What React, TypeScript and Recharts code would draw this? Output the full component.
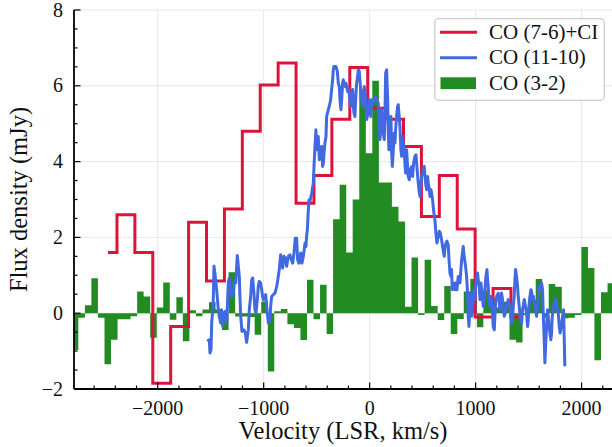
import React from 'react';
import { ComposedChart, Line, Area, XAxis, YAxis, CartesianGrid, Legend, Label } from 'recharts';

// ---- axes ----
const X_DOMAIN: [number, number] = [-2790, 2287];
const Y_DOMAIN: [number, number] = [-2, 8];
const X_MAJOR = [-2000, -1000, 0, 1000, 2000];
const X_MINOR = [-2600, -2400, -2200, -1800, -1600, -1400, -1200, -800, -600, -400, -200, 200, 400, 600, 800, 1200, 1400, 1600, 1800, 2200];
const Y_MAJOR = [-2, 0, 2, 4, 6, 8];
const Y_MINOR = [-1.5, -1, -0.5, 0.5, 1, 1.5, 2.5, 3, 3.5, 4.5, 5, 5.5, 6.5, 7, 7.5];

// ---- CO (7-6)+CI: channel centres (km/s) and flux density (mJy) ----
const co76Vel = [-2469, -2300, -2131, -1962, -1793, -1624, -1455, -1286, -1117, -948, -779, -610, -441, -272, -103, 66, 235, 404, 573, 742, 911, 1080, 1249, 1418];
const co76Flux = [1.6, 2.6, 1.6, -1.85, -0.35, 2.4, 0.85, 2.75, 4.8, 6.02, 6.6, 2.9, 3.63, 5.12, 6.48, 5.41, 5.12, 4.4, 2.55, 3.63, 2.22, -0.1, 0.65, -0.1];

// ---- CO (11-10): velocity (km/s) and flux density (mJy) ----
const co1110Vel = [
  -1532, -1513, -1507, -1497, -1490, -1477, -1469, -1456, -1444, -1428, -1419, -1406, -1397, -1387, -1375, -1362, -1349, -1334, -1324, -1312,
  -1299, -1287, -1277, -1264, -1249, -1230, -1224, -1217, -1205, -1186, -1173, -1161, -1145, -1136, -1123, -1113, -1104, -1092, -1082, -1073,
  -1060, -1051, -1041, -1029, -1019, -1010, -1003, -991, -981, -972, -956, -941, -934, -925, -909, -893, -877, -871, -853, -840,
  -830, -821, -808, -796, -783, -768, -752, -739, -726, -714, -702, -689, -680, -667, -651, -639, -626, -610, -601, -595,
  -588, -582, -573, -563, -547, -532, -525, -516, -507, -500, -494, -485, -475, -469, -453, -444, -437, -428, -422, -412,
  -406, -390, -381, -368, -359, -349, -343, -337, -318, -305, -296, -286, -280, -271, -264, -255, -249, -239, -230, -224,
  -217, -208, -198, -192, -186, -180, -170, -161, -154, -148, -139, -129, -123, -113, -107, -98, -92, -85, -76, -66,
  -60, -51, -41, -35, -29, -22, -13, -3, 3, 12, 19, 34, 50, 66, 81, 88, 97, 107, 113, 119,
  129, 138, 144, 151, 160, 170, 176, 182, 192, 201, 207, 214, 223, 232, 239, 245, 254, 264, 270, 276,
  286, 295, 302, 308, 317, 327, 333, 339, 349, 358, 364, 374, 383, 396, 405, 415, 427, 437, 446, 453,
  459, 465, 475, 484, 490, 506, 515, 522, 528, 537, 547, 553, 563, 569, 578, 585, 594, 603, 610, 616,
  625, 635, 647, 657, 666, 679, 688, 698, 704, 710, 720, 729, 742, 748, 758, 767, 773, 780, 789, 798,
  805, 814, 824, 836, 852, 868, 883, 892, 905, 915, 924, 930, 937, 946, 956, 962, 968, 978, 987, 993,
  1003, 1012, 1018, 1025, 1034, 1041, 1050, 1063, 1072, 1081, 1088, 1097, 1107, 1113, 1119, 1125, 1135, 1144, 1151, 1160,
  1166, 1176, 1182, 1188, 1198, 1214, 1220, 1229, 1239, 1245, 1254, 1261, 1270, 1276, 1286, 1292, 1308, 1324, 1333, 1339,
  1346, 1355, 1364, 1371, 1377, 1386, 1396, 1402, 1418, 1427, 1434, 1443, 1449, 1459, 1465, 1481, 1490, 1497, 1503, 1512,
  1522, 1528, 1537, 1547, 1553, 1566, 1575, 1585, 1591, 1600, 1610, 1616, 1622, 1632, 1638, 1647, 1654, 1663, 1673, 1679,
  1685, 1695, 1701, 1710, 1717, 1723, 1732, 1742, 1748, 1758, 1767, 1780, 1789, 1798, 1808, 1817, 1830, 1842,
];
const co1110Flux = [
  -0.74, -0.7, -1.05, -0.96, -0.22, 0.18, 1.24, 0.95, 0.62, 0.09, -0.08, -0.26, 0.09, -0.35, 0.0, 0.05, -0.26, 0.8, 0.93, 0.62,
  0.44, 0.53, 0.84, 0.8, 1.52, 0.97, 0.44, -0.08, -0.48, -0.44, -0.52, -0.77, -0.44, 0.09, 0.44, 0.88, 0.93, 0.53, 0.09, 0.0,
  0.36, 0.71, 0.84, 0.8, 0.62, 0.44, 0.36, 0.4, 0.49, 0.18, -0.26, -0.17, 0.18, 0.44, 0.49, 0.53, 0.71, 0.8, 1.15, 1.54,
  1.41, 1.19, 1.5, 1.46, 1.24, 1.5, 1.54, 1.41, 1.32, 1.59, 1.98, 1.98, 1.41, 1.32, 1.59, 1.32, 1.5, 1.85, 1.76, 2.03,
  2.2, 2.55, 2.99, 2.95, 3.17, 3.43, 3.87, 4.4, 4.84, 4.31, 4.49, 4.66, 4.05, 4.31, 4.4, 3.87, 3.96, 4.31, 4.49, 4.66,
  5.19, 5.37, 5.46, 5.63, 5.9, 6.16, 6.42, 6.51, 6.51, 6.38, 6.07, 5.98, 5.63, 5.37, 5.63, 6.07, 6.16, 6.03, 5.98, 6.07,
  5.98, 5.85, 5.9, 5.77, 5.63, 5.46, 5.72, 5.9, 5.46, 5.28, 5.19, 5.81, 6.07, 6.25, 6.42, 6.38, 6.16, 5.9, 5.63, 5.46,
  5.72, 5.98, 5.72, 5.46, 5.11, 5.19, 5.37, 5.63, 5.46, 5.19, 5.63, 5.55, 5.72, 5.63, 5.55, 5.19, 4.58, 4.93, 5.37, 5.19,
  4.75, 4.58, 5.19, 6.34, 6.42, 5.63, 4.75, 4.31, 4.93, 5.19, 4.31, 3.87, 4.31, 4.75, 4.49, 4.84, 5.19, 5.46, 5.5, 5.28,
  4.93, 4.31, 4.14, 4.66, 4.49, 4.23, 3.96, 3.7, 4.31, 3.87, 3.61, 3.52, 3.79, 3.87, 3.61, 3.96, 4.14, 4.18, 3.87, 3.61,
  3.43, 3.26, 3.08, 3.43, 3.61, 3.79, 3.87, 3.61, 3.43, 3.26, 3.61, 3.43, 3.26, 3.08, 3.26, 3.17, 2.99, 2.73, 2.55, 2.47,
  2.12, 1.85, 2.03, 2.16, 2.12, 1.94, 1.76, 1.59, 1.5, 1.7, 1.85, 1.9, 1.8, 1.45, 1.05, 0.97, 1.15, 0.62, 0.8, 0.66,
  0.62, 0.8, 0.62, 0.97, 0.8, 1.41, 1.76, 1.5, 1.24, 0.97, 0.53, -0.08, -0.35, 0.18, 0.53, -0.08, 0.0, 0.44, 0.62, 0.36,
  0.8, 0.97, 1.06, 0.88, 0.71, 0.36, 0.8, 0.44, 0.18, 0.36, 0.62, 0.97, 1.15, 0.88, 0.71, 0.36, 0.18, 0.44, 0.36, 0.0,
  -0.35, -0.44, -0.08, 0.27, 0.44, 0.53, 0.36, 0.09, 0.27, 0.53, 0.36, 0.18, -0.08, -0.04, 0.09, 0.18, 0.36, 0.18, 0.0, -0.26,
  -0.26, 0.18, 0.44, 0.88, 1.15, 0.97, 0.71, 0.44, 0.0, -0.17, -0.26, 0.09, 0.18, 0.36, 0.27, 0.0, -0.35, -0.17, 0.18, 0.44,
  0.62, 0.58, 0.36, 0.44, 0.27, 0.09, -0.08, 0.18, 0.44, 0.71, 0.71, 0.62, 0.8, 0.62, 0.0, -0.7, -1.31, -0.7, -0.17, 0.09,
  -0.08, -0.35, -0.52, -0.7, -0.52, -0.08, 0.09, 0.27, 0.36, 0.36, 0.18, 0.0, -0.35, -0.52, -0.35, -0.17, 0.09, -1.4,
];

// ---- CO (3-2): channel edges (km/s) and flux density per channel (mJy) ----
const co32Edges = [
  -2811, -2749, -2687, -2626, -2564, -2502, -2441, -2379, -2318, -2256, -2194, -2133, -2071, -2009, -1948, -1886, -1824, -1763, -1701, -1639,
  -1578, -1516, -1454, -1393, -1331, -1269, -1208, -1146, -1085, -1023, -961, -900, -838, -776, -715, -653, -591, -530, -468, -406,
  -345, -283, -221, -160, -98, -36, 25, 87, 149, 210, 272, 334, 395, 457, 519, 580, 642, 704, 765, 827,
  888, 950, 1012, 1073, 1135, 1197, 1258, 1320, 1382, 1443, 1505, 1567, 1628, 1690, 1751, 1813, 1875, 1936, 1998, 2060,
  2121, 2183, 2245, 2306,
];
const co32Flux = [
  -0.97, -0.12, 0.21, 0.92, -0.12, -1.35, -0.7, -0.16, -0.16, -0.08, 0.57, 0.44, -0.65, 0.15, 0.81, -0.17, 0.42, -0.74, 0.08, -0.08,
  0.1, 0.29, 0.1, -0.44, 1.08, -0.09, -0.09, -0.1, -0.57, 0.31, -1.54, 0.05, 0.11, -0.29, -0.39, -0.71, 0.88, -0.16, 0.75, -0.55,
  2.48, 3.39, 1.6, 3.0, 5.91, 4.22, 6.13, 3.45, 3.45, 2.81, 2.42, 0.17, 1.47, -0.05, 1.41, 0.19, -0.18, 0.72, -0.55, -0.15,
  0.57, 0.9, -0.37, 0.6, 0.4, 0.15, 0.3, -0.7, -0.77, -0.05, 0.35, 0.9, -0.12, 0.77, 0.7, -0.13, -0.12, -0.05, 1.75, 1.19,
  -1.24, 0.55, 0.79,
];

const SERIES_NAMES = ['CO (7-6)+CI', 'CO (11-10)', 'CO (3-2)'];
const COLORS = { co76: '#dc143c', co1110: '#4169e1', co32: '#228b22' };

const co76Data = co76Vel.map((v, i) => ({ v, f: co76Flux[i] }));
const co1110Data = co1110Vel.map((v, i) => ({ v, f: co1110Flux[i] }));
// step-after fill: each edge carries the value of the channel to its right
const co32Data = co32Edges.map((v, i) => ({ v, f: co32Flux[Math.min(i, co32Flux.length - 1)] }));

const X_TICKS = [...X_MAJOR, ...X_MINOR].sort((a, b) => a - b);
const Y_TICKS = [...Y_MAJOR, ...Y_MINOR].sort((a, b) => a - b);

const FONT = "'Liberation Serif'";
const INK = '#111';
const MAJOR_LEN = 6.5;
const MINOR_LEN = 3.5;

const textStyle = (size: number): React.CSSProperties => ({ fontFamily: FONT, fontSize: size, fill: INK });

const fmt = (v: number) => (v < 0 ? `\u2212${Math.abs(v)}` : `${v}`);

function BottomTick(props: any) {
  const { x, y, payload } = props;
  const major = X_MAJOR.includes(payload.value);
  return (
    <g>
      <line x1={x} x2={x} y1={y} y2={y - (major ? MAJOR_LEN : MINOR_LEN)} stroke="#000" strokeWidth={1.2} />
      {major && (
        <text x={x} y={y + 26} textAnchor="middle" style={textStyle(20)}>
          {fmt(payload.value)}
        </text>
      )}
    </g>
  );
}

function TopTick(props: any) {
  const { x, y, payload } = props;
  const major = X_MAJOR.includes(payload.value);
  return <line x1={x} x2={x} y1={y} y2={y + (major ? MAJOR_LEN : MINOR_LEN)} stroke="#000" strokeWidth={1.2} />;
}

function LeftTick(props: any) {
  const { x, y, payload } = props;
  const major = Y_MAJOR.includes(payload.value);
  return (
    <g>
      <line x1={x} x2={x + (major ? MAJOR_LEN : MINOR_LEN)} y1={y} y2={y} stroke="#000" strokeWidth={1.2} />
      {major && (
        <text x={x - 11} y={y + 6.5} textAnchor="end" style={textStyle(20)}>
          {fmt(payload.value)}
        </text>
      )}
    </g>
  );
}

function RightTick(props: any) {
  const { x, y, payload } = props;
  const major = Y_MAJOR.includes(payload.value);
  return <line x1={x} x2={x - (major ? MAJOR_LEN : MINOR_LEN)} y1={y} y2={y} stroke="#000" strokeWidth={1.2} />;
}

function XTitle(props: any) {
  const vb = props.viewBox;
  return (
    <text x={vb.x + vb.width / 2} y={439} textAnchor="middle" style={textStyle(24.5)}>
      Velocity (LSR, km/s)
    </text>
  );
}

function YTitle(props: any) {
  const vb = props.viewBox;
  const cx = 27;
  const cy = vb.y + vb.height / 2;
  return (
    <text x={cx} y={cy} transform={`rotate(-90, ${cx}, ${cy})`} textAnchor="middle" style={textStyle(24.5)}>
      Flux density (mJy)
    </text>
  );
}

function LegendBox() {
  const rows = [
    { name: SERIES_NAMES[0], color: COLORS.co76, kind: 'line', cy: 14.3 },
    { name: SERIES_NAMES[1], color: COLORS.co1110, kind: 'line', cy: 39.7 },
    { name: SERIES_NAMES[2], color: COLORS.co32, kind: 'patch', cy: 65.2 },
  ];
  return (
    <svg width={171} height={83} style={{ display: 'block' }}>
      <rect x={0.7} y={0.7} width={169.6} height={81.6} rx={4} fill="#fff" fillOpacity={0.8} stroke="#cccccc" strokeWidth={1.3} />
      {rows.map((r) => (
        <g key={r.name}>
          {r.kind === 'line' ? (
            <line x1={6} x2={43} y1={r.cy} y2={r.cy} stroke={r.color} strokeWidth={3} />
          ) : (
            <rect x={6.5} y={r.cy - 5.9} width={35.5} height={11.8} fill={r.color} />
          )}
          <text x={55} y={r.cy + 6.5} style={textStyle(21)}>
            {r.name}
          </text>
        </g>
      ))}
    </svg>
  );
}

export default function App() {
  return (
    <div style={{ position: 'absolute', left: 0, top: 0, width: 612, height: 447, overflow: 'hidden', background: '#fff' }}>
      <ComposedChart width={620} height={447} margin={{ top: 10, right: 8, bottom: 0, left: 0 }}>
        <XAxis
          xAxisId="x"
          dataKey="v"
          type="number"
          domain={X_DOMAIN}
          allowDataOverflow
          ticks={X_TICKS}
          interval={0}
          tickSize={0}
          tickMargin={0}
          tickLine={false}
          tick={BottomTick}
          height={58}
          axisLine={{ stroke: '#000', strokeWidth: 1.8 }}
        >
          <Label content={XTitle} />
        </XAxis>
        <XAxis
          xAxisId="top"
          orientation="top"
          type="number"
          domain={X_DOMAIN}
          allowDataOverflow
          ticks={X_TICKS}
          interval={0}
          tickSize={0}
          tickMargin={0}
          tickLine={false}
          tick={TopTick}
          height={0}
          axisLine={{ stroke: '#000', strokeWidth: 1.8 }}
        />
        <YAxis
          yAxisId="y"
          type="number"
          domain={Y_DOMAIN}
          allowDataOverflow
          ticks={Y_TICKS}
          interval={0}
          tickSize={0}
          tickMargin={0}
          tickLine={false}
          tick={LeftTick}
          width={74}
          axisLine={{ stroke: '#000', strokeWidth: 1.8 }}
        >
          <Label content={YTitle} />
        </YAxis>
        <YAxis
          yAxisId="right"
          orientation="right"
          type="number"
          domain={Y_DOMAIN}
          allowDataOverflow
          ticks={Y_TICKS}
          interval={0}
          tickSize={0}
          tickMargin={0}
          tickLine={false}
          tick={RightTick}
          width={0}
          axisLine={{ stroke: '#000', strokeWidth: 1.8 }}
        />
        <Area
          xAxisId="x"
          yAxisId="y"
          data={co32Data}
          dataKey="f"
          name={SERIES_NAMES[2]}
          type="stepAfter"
          baseValue={0}
          stroke="none"
          fill={COLORS.co32}
          fillOpacity={1}
          isAnimationActive={false}
          dot={false}
          activeDot={false}
        />
        <CartesianGrid
          xAxisId="x"
          yAxisId="y"
          verticalValues={X_MAJOR}
          horizontalValues={Y_MAJOR}
          stroke="#b0b0b0"
          strokeOpacity={0.3}
          strokeWidth={1}
        />
        <Line
          xAxisId="x"
          yAxisId="y"
          data={co76Data}
          dataKey="f"
          name={SERIES_NAMES[0]}
          type="step"
          stroke={COLORS.co76}
          strokeWidth={3}
          dot={false}
          activeDot={false}
          isAnimationActive={false}
        />
        <Line
          xAxisId="x"
          yAxisId="y"
          data={co1110Data}
          dataKey="f"
          name={SERIES_NAMES[1]}
          type="linear"
          stroke={COLORS.co1110}
          strokeWidth={3}
          strokeLinejoin="round"
          dot={false}
          activeDot={false}
          isAnimationActive={false}
        />
        <Legend
          layout="vertical"
          align="center"
          verticalAlign="middle"
          wrapperStyle={{ left: 434, top: 18, width: 171, height: 83 }}
          content={() => <LegendBox />}
        />
      </ComposedChart>
    </div>
  );
}
